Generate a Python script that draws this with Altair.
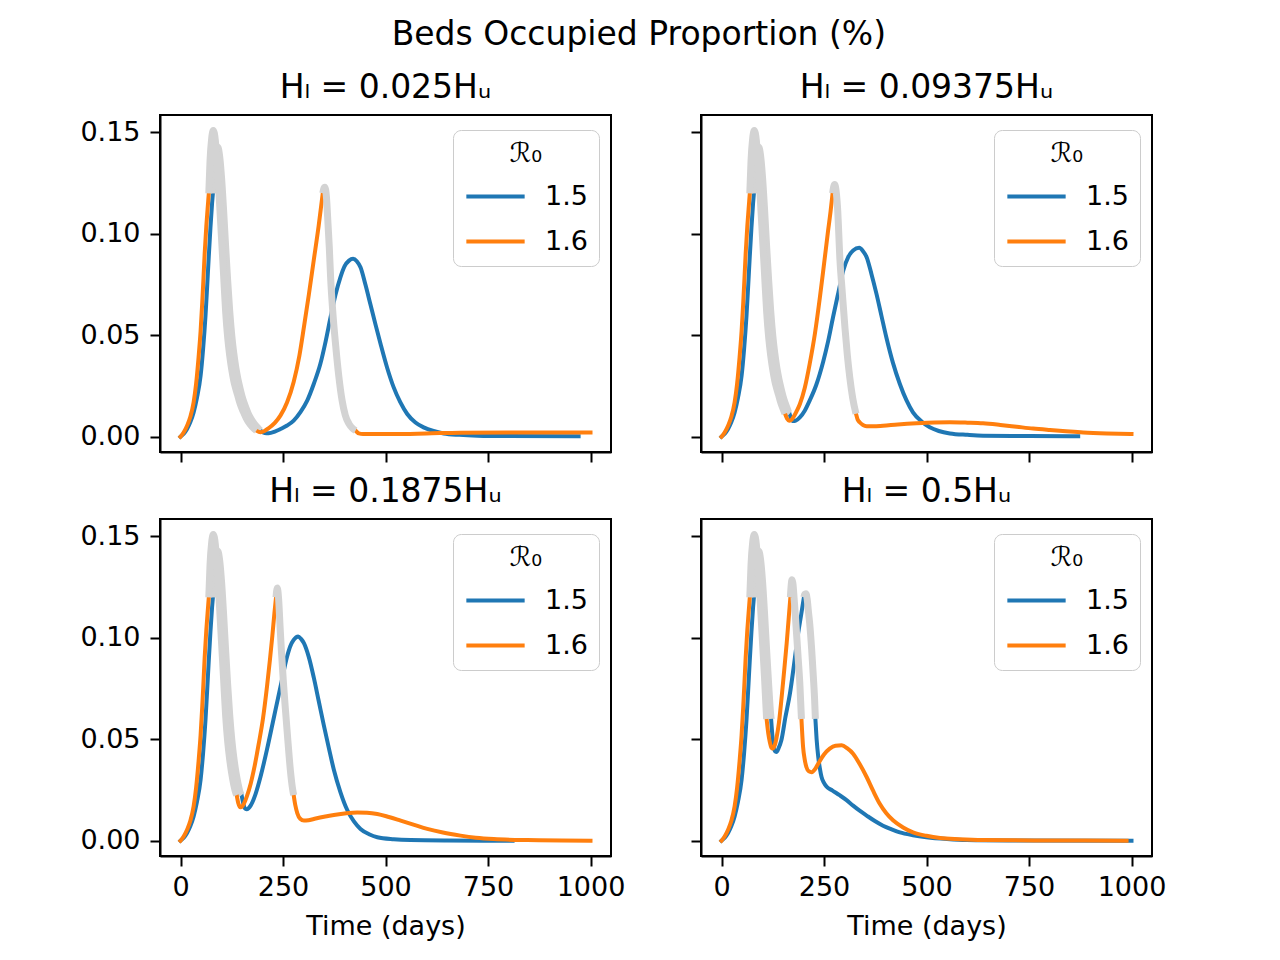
import altair as alt
import pandas as pd

# ---------------- data ----------------
# first wave rise (identical in all panels)
RISE_15_T = [0, 8, 16, 24, 32, 40, 49, 55, 61, 65, 69, 73, 77, 79]
RISE_15_V = [0, 0.0015, 0.0038, 0.0072, 0.012, 0.019, 0.030, 0.043, 0.0597, 0.074, 0.089, 0.103, 0.115, 0.12]
RISE_16_T = [0, 8, 16, 24, 32, 38, 44, 49, 53, 56, 59, 63, 66, 69]
RISE_16_V = [0, 0.0022, 0.0054, 0.0098, 0.0169, 0.026, 0.039, 0.052, 0.066, 0.078, 0.0905, 0.104, 0.112, 0.12]

# first lockdown (grey), identical in all panels until release
G1_15_T = [79, 82, 86, 91, 95, 100, 105, 110, 115, 120, 125, 130, 135, 140, 145, 150, 155, 160, 165, 170, 180, 190]
G1_15_V = [0.12, 0.132, 0.14, 0.1427, 0.139, 0.128, 0.112, 0.094, 0.077, 0.062, 0.05, 0.041, 0.034, 0.0285,
           0.024, 0.02, 0.0168, 0.014, 0.0115, 0.0095, 0.0063, 0.004]
G1_16_T = [69, 72, 76, 80, 85, 90, 95, 100, 105, 110, 115, 120, 125, 130, 135, 140, 145, 150, 155, 160, 170, 180]
G1_16_V = [0.12, 0.136, 0.147, 0.151, 0.146, 0.133, 0.116, 0.098, 0.08, 0.062, 0.049, 0.04, 0.033, 0.0275,
           0.0235, 0.02, 0.0165, 0.0138, 0.0115, 0.0093, 0.006, 0.0038]

# release points of the first lockdown per panel (day, value)
REL_15 = [(195, 0.003), (166, 0.0113), (149, 0.0225), (121, 0.06)]
REL_16 = [(185, 0.003), (155, 0.0113), (137, 0.0225), (110, 0.06)]

PANEL_TITLES = ["Hₗ = 0.025Hᵤ", "Hₗ = 0.09375Hᵤ", "Hₗ = 0.1875Hᵤ", "Hₗ = 0.5Hᵤ"]

# ---- panel 1 ----
P1_15_A_T = [195, 205, 215, 230, 244, 260, 276, 292, 309, 325, 341, 354, 366, 378, 390, 400, 411, 421, 430, 439,
             451, 463, 476, 488, 504, 520, 536, 553, 573, 593, 617, 642, 680, 724, 800, 971]
P1_15_A_V = [0.003, 0.0018, 0.0017, 0.0025, 0.0038, 0.0055, 0.0079, 0.012, 0.0178, 0.026, 0.0358, 0.047, 0.0589,
             0.07, 0.0786, 0.084, 0.0868, 0.0877, 0.0865, 0.0835, 0.075, 0.0654, 0.055, 0.0457, 0.034, 0.0243,
             0.017, 0.0112, 0.007, 0.0046, 0.0028, 0.0016, 0.0009, 0.0005, 0.0003, 0.0002]
P1_16_A_T = [185, 195, 205, 215, 230, 244, 260, 276, 290, 301, 313, 325, 337, 347]
P1_16_A_V = [0.003, 0.0022, 0.0028, 0.0042, 0.0068, 0.0105, 0.017, 0.027, 0.04, 0.054, 0.07, 0.087, 0.104, 0.12]
P1_16_G_T = [347, 350, 352, 356, 360, 363, 366, 372, 378, 386, 394, 402, 411, 420, 427]
P1_16_G_V = [0.12, 0.1225, 0.123, 0.118, 0.104, 0.093, 0.079, 0.06, 0.046, 0.030, 0.018, 0.0105, 0.0063, 0.004, 0.003]
P1_16_B_T = [427, 435, 445, 520, 600, 683, 800, 1000]
P1_16_B_V = [0.003, 0.0016, 0.0013, 0.0013, 0.0016, 0.002, 0.0021, 0.0021]

# ---- panel 2 ----
P2_15_A_T = [166, 170, 175, 181, 191, 203, 215, 231, 248, 260, 272, 285, 297, 309, 321, 336, 345, 354, 366, 378,
             390, 402, 418, 435, 451, 467, 488, 508, 530, 557, 600, 638, 750, 870]
P2_15_A_V = [0.0113, 0.0088, 0.0077, 0.0079, 0.0095, 0.0128, 0.0178, 0.0255, 0.037, 0.047, 0.0589, 0.071, 0.0819,
             0.0885, 0.0918, 0.0931, 0.0915, 0.0885, 0.08, 0.0704, 0.0597, 0.049, 0.0365, 0.026, 0.018, 0.012,
             0.0075, 0.0046, 0.0028, 0.0016, 0.0009, 0.0005, 0.0003, 0.0002]
P2_16_A_T = [155, 160, 165, 170, 175, 183, 191, 203, 215, 228, 240, 250, 260, 266, 271]
P2_16_A_V = [0.0113, 0.0088, 0.0079, 0.0082, 0.0095, 0.0125, 0.016, 0.024, 0.0358, 0.051, 0.0687, 0.085, 0.1016,
             0.111, 0.12]
P2_16_G_T = [271, 274, 276, 279, 283, 289, 295, 301, 307, 313, 320, 328]
P2_16_G_V = [0.12, 0.1235, 0.1243, 0.122, 0.113, 0.0868, 0.07, 0.054, 0.04, 0.029, 0.019, 0.0113]
P2_16_B_T = [328, 332, 337, 345, 354, 370, 394, 430, 476, 520, 557, 600, 638, 680, 720, 760, 801, 840, 882, 940, 1000]
P2_16_B_V = [0.0113, 0.0085, 0.0071, 0.0058, 0.0052, 0.0051, 0.0054, 0.006, 0.0066, 0.007, 0.0071, 0.0069,
             0.0066, 0.0058, 0.0049, 0.004, 0.0033, 0.0027, 0.0021, 0.0016, 0.0013]

# ---- panel 3 ----
P3_15_A_T = [149, 153, 157, 161, 166, 171, 183, 195, 211, 228, 244, 260, 268, 276, 287, 294, 301, 313, 325, 337,
             350, 362, 374, 390, 407, 423, 439, 460, 480, 520, 561, 650, 810]
P3_15_A_V = [0.0225, 0.0185, 0.016, 0.0155, 0.016, 0.0173, 0.023, 0.0314, 0.045, 0.061, 0.076, 0.0908, 0.096,
             0.099, 0.1007, 0.0995, 0.0974, 0.0905, 0.0805, 0.069, 0.0565, 0.0455, 0.035, 0.024, 0.015, 0.0095,
             0.0058, 0.0032, 0.0017, 0.0007, 0.0003, 0.0001, 0.0]
P3_16_A_T = [137, 141, 146, 150, 154, 162, 171, 181, 191, 201, 211, 218, 224, 229, 233]
P3_16_A_V = [0.0225, 0.0185, 0.0165, 0.0168, 0.018, 0.022, 0.028, 0.037, 0.048, 0.06, 0.076, 0.089, 0.101,
             0.112, 0.12]
P3_16_G_T = [233, 236, 239, 243, 246, 251, 256, 262, 268, 273, 276]
P3_16_G_V = [0.12, 0.1246, 0.12, 0.105, 0.094, 0.078, 0.0644, 0.049, 0.0347, 0.026, 0.0225]
P3_16_B_T = [276, 280, 285, 292, 301, 312, 325, 350, 374, 400, 431, 455, 480, 508, 537, 570, 602, 640, 683, 720,
             764, 846, 1000]
P3_16_B_V = [0.0225, 0.0175, 0.0135, 0.0108, 0.0099, 0.0101, 0.0107, 0.0118, 0.0127, 0.0134, 0.0139, 0.0138,
             0.0132, 0.0117, 0.0099, 0.0078, 0.0058, 0.004, 0.0025, 0.0015, 0.0008, 0.0003, 0.0]

# ---- panel 4 ----
P4_15_A_T = [121, 124, 127, 130, 134, 139, 146, 156, 167, 177, 187, 194, 201]
P4_15_A_V = [0.06, 0.052, 0.0465, 0.0442, 0.0437, 0.0455, 0.0495, 0.061, 0.0726, 0.087, 0.1023, 0.111, 0.12]
P4_15_G_T = [201, 203, 206, 209, 212, 215, 220, 224, 227, 229]
P4_15_G_V = [0.12, 0.1215, 0.1218, 0.119, 0.113, 0.1073, 0.094, 0.0809, 0.07, 0.06]
P4_15_B_T = [229, 232, 236, 240, 244, 250, 256, 270, 289, 305, 321, 337, 354, 374, 394, 415, 435, 467, 500, 550,
             598, 700, 1000]
P4_15_B_V = [0.06, 0.05, 0.0413, 0.0355, 0.0314, 0.0285, 0.0267, 0.0248, 0.0223, 0.02, 0.0173, 0.0148, 0.0124,
             0.0097, 0.0074, 0.0056, 0.0041, 0.0027, 0.0017, 0.0008, 0.0003, 0.0001, 0.0]
P4_16_A_T = [110, 114, 118, 122, 125, 129, 134, 140, 146, 152, 159, 164, 168]
P4_16_A_V = [0.06, 0.053, 0.0485, 0.0458, 0.0454, 0.0465, 0.0505, 0.058, 0.0693, 0.082, 0.0974, 0.11, 0.12]
P4_16_G_T = [168, 170, 172, 174, 178, 183, 187, 191, 195]
P4_16_G_V = [0.12, 0.126, 0.1287, 0.127, 0.117, 0.1023, 0.09, 0.0776, 0.06]
P4_16_B_T = [195, 199, 203, 207, 213, 220, 228, 236, 250, 264, 278, 293, 307, 321, 337, 354, 370, 386, 402, 419,
             443, 467, 500, 533, 580, 638, 800, 988]
P4_16_B_V = [0.06, 0.0462, 0.04, 0.0363, 0.0342, 0.0338, 0.0352, 0.038, 0.0425, 0.0454, 0.0468, 0.047, 0.0455,
             0.0429, 0.0378, 0.0314, 0.0245, 0.0182, 0.0135, 0.0099, 0.0065, 0.0041, 0.0024, 0.0013, 0.0007,
             0.0003, 0.0001, 0.0]

# segments per panel: (r0, kind, T, V); kind 'c' = coloured, 'g' = lockdown (grey)
PANEL_SEGS = [
    [("1.5", "c", P1_15_A_T, P1_15_A_V),
     ("1.6", "c", P1_16_A_T, P1_16_A_V), ("1.6", "g", P1_16_G_T, P1_16_G_V), ("1.6", "c", P1_16_B_T, P1_16_B_V)],
    [("1.5", "c", P2_15_A_T, P2_15_A_V),
     ("1.6", "c", P2_16_A_T, P2_16_A_V), ("1.6", "g", P2_16_G_T, P2_16_G_V), ("1.6", "c", P2_16_B_T, P2_16_B_V)],
    [("1.5", "c", P3_15_A_T, P3_15_A_V),
     ("1.6", "c", P3_16_A_T, P3_16_A_V), ("1.6", "g", P3_16_G_T, P3_16_G_V), ("1.6", "c", P3_16_B_T, P3_16_B_V)],
    [("1.5", "c", P4_15_A_T, P4_15_A_V), ("1.5", "g", P4_15_G_T, P4_15_G_V), ("1.5", "c", P4_15_B_T, P4_15_B_V),
     ("1.6", "c", P4_16_A_T, P4_16_A_V), ("1.6", "g", P4_16_G_T, P4_16_G_V), ("1.6", "c", P4_16_B_T, P4_16_B_V)],
]


def build_df(p):
    rows = []
    sid = 0

    def add(r0, kind, ts, vs):
        nonlocal sid
        sid += 1
        for t, v in zip(ts, vs):
            rows.append({"r0": r0, "kind": kind, "seg": f"{r0}-{sid}", "t": t, "v": v})

    for r0, rise_t, rise_v, g_t, g_v, rel in (
        ("1.5", RISE_15_T, RISE_15_V, G1_15_T, G1_15_V, REL_15[p]),
        ("1.6", RISE_16_T, RISE_16_V, G1_16_T, G1_16_V, REL_16[p]),
    ):
        add(r0, "c", rise_t, rise_v)
        gt = [t for t in g_t if t < rel[0]] + [rel[0]]
        gv = [v for t, v in zip(g_t, g_v) if t < rel[0]] + [rel[1]]
        add(r0, "g", gt, gv)
    for r0, kind, ts, vs in PANEL_SEGS[p]:
        add(r0, kind, ts, vs)
    return pd.DataFrame(rows)


BLUE, ORANGE, GREY = "#1f77b4", "#ff7f0e", "#d3d3d3"


def panel(p):
    df = build_df(p)
    left = p % 2 == 0
    bottom = p >= 2
    x = alt.X("t:Q", scale=alt.Scale(domain=[-50, 1050], nice=False, zero=False),
              axis=alt.Axis(values=[0, 250, 500, 750, 1000], labels=bottom, format="d",
                            title="Time (days)" if bottom else None))
    y = alt.Y("v:Q", scale=alt.Scale(domain=[-0.00755, 0.1586], nice=False, zero=False),
              axis=alt.Axis(values=[0, 0.05, 0.10, 0.15], labels=left, format=".2f", title=None,
                            labelPadding=10))
    color = alt.Color("r0:N", scale=alt.Scale(domain=["1.5", "1.6"], range=[BLUE, ORANGE]),
                      legend=alt.Legend(title="ℛ₀", orient="none", legendX=293, legendY=15,
                                        symbolType="stroke", symbolStrokeWidth=4, symbolSize=3400,
                                        labelFontSize=27, titleFontSize=27, titleFontWeight="normal",
                                        titleAnchor="middle", titleAlign="center",
                                        strokeColor="#cccccc", fillColor="white", cornerRadius=8,
                                        padding=11, labelOffset=18, rowPadding=-3, titlePadding=-3))
    base = alt.Chart(df)
    layers = []
    for r0 in ["1.5", "1.6"]:
        layers.append(base.transform_filter(f"datum.r0 == '{r0}' && datum.kind == 'c'")
                      .mark_line(strokeWidth=4, interpolate="monotone", strokeCap="square")
                      .encode(x=x, y=y, color=color, detail="seg:N"))
        layers.append(base.transform_filter(f"datum.r0 == '{r0}' && datum.kind == 'g'")
                      .mark_line(strokeWidth=7, interpolate="monotone", color=GREY, strokeCap="butt")
                      .encode(x=x, y=y, detail="seg:N"))
    return alt.layer(*layers).properties(
        width=451, height=337,
        title=alt.Title(PANEL_TITLES[p], fontSize=33, fontWeight="normal", offset=10),
    )


chart = alt.concat(
    panel(0), panel(1), panel(2), panel(3), columns=2,
    spacing={"row": 67, "column": 90}, bounds="flush",
).resolve_scale(color="independent").resolve_legend(color="independent").properties(
    title=alt.Title("Beds Occupied Proportion (%)", fontSize=33, fontWeight="normal", anchor="middle",
                    offset=19, dx=16),
    padding={"left": 70, "top": 11, "right": 5, "bottom": 5},
).configure(font="DejaVu Sans").configure_view(
    stroke="black", strokeWidth=2
).configure_axis(
    grid=False, domainColor="black", domainWidth=2, tickColor="black", tickWidth=2, tickSize=10,
    labelFontSize=27, labelColor="black", labelPadding=8, titleFontSize=27, titleFontWeight="normal",
    titleColor="black", titlePadding=13,
).configure_title(color="black", font="DejaVu Sans")

chart.save("out.html", embed_options={"renderer": "svg", "actions": False})
